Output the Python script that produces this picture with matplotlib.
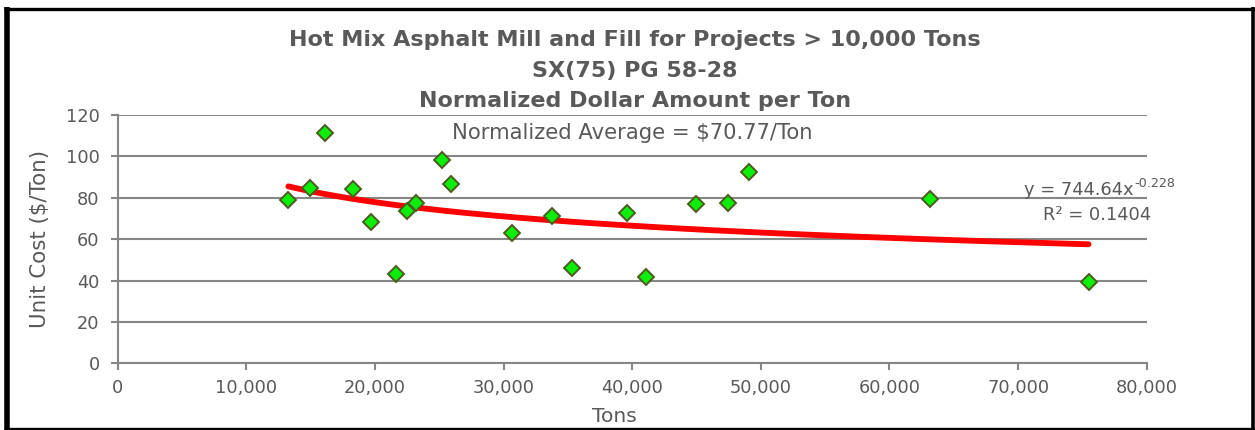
import numpy as np
import matplotlib
matplotlib.use("Agg")
import matplotlib.pyplot as plt
from matplotlib.ticker import FuncFormatter, MultipleLocator
from matplotlib.lines import Line2D

# Project size (tons) and normalized unit cost ($/ton)
tons = [13260, 14950, 16110, 18270, 19690, 21630, 22470, 23190, 25190, 25910,
        30680, 33740, 35340, 39620, 41070, 44980, 47430, 49100, 63160, 75480]
unit_cost = [78.9, 84.6, 111.2, 84.1, 68.1, 43.0, 73.6, 77.3, 98.3, 86.5,
             62.8, 71.2, 45.9, 72.8, 41.9, 77.0, 77.3, 92.5, 79.2, 39.4]

# Power trendline y = a * x^b
trend_a = 744.64
trend_b = -0.228
trend_r2 = 0.1404
normalized_avg = 70.77

title_lines = ["Hot Mix Asphalt Mill and Fill for Projects > 10,000 Tons",
               "SX(75) PG 58-28",
               "Normalized Dollar Amount per Ton"]

W, H = 1255, 430
TEXT = "#595959"
GRID = "#878787"

plt.rcParams["font.family"] = ["DejaVu Sans"]

fig = plt.figure(figsize=(W / 100, H / 100), dpi=100)
fig.patch.set_facecolor("white")


def fx(px):
    return px / W


def fy(py):
    return 1 - py / H


left, right, top, bottom = 117.8, 1146.7, 115.0, 363.3
ax = fig.add_axes([fx(left), fy(bottom), fx(right) - fx(left), fy(top) - fy(bottom)])

ax.set_xlim(0, 80000)
ax.set_ylim(0, 120)
ax.xaxis.set_major_locator(MultipleLocator(10000))
ax.yaxis.set_major_locator(MultipleLocator(20))
ax.xaxis.set_major_formatter(FuncFormatter(lambda v, p: f"{v:,.0f}"))

ax.grid(axis="y", color=GRID, linewidth=1.5)
ax.set_axisbelow(True)
for s in ("top", "right"):
    ax.spines[s].set_visible(False)
for s in ("left", "bottom"):
    ax.spines[s].set_color(GRID)
    ax.spines[s].set_linewidth(1.5)

ax.tick_params(axis="both", direction="out", length=5, width=1.5, color=GRID,
               labelcolor=TEXT, labelsize=12.8)
ax.tick_params(axis="x", pad=6)
ax.tick_params(axis="y", pad=8)

# Trendline over the data range
xt = np.linspace(min(tons), max(tons), 300)
ax.plot(xt, trend_a * xt ** trend_b, color="#FF0000", linewidth=4.2,
        solid_capstyle="round", zorder=2)

# Data points
ax.plot(tons, unit_cost, linestyle="none", marker="D", markersize=8.2,
        markerfacecolor="#0AEE0A", markeredgecolor="#4E5B1E",
        markeredgewidth=1.4, zorder=3)

# Titles
for txt, base in zip(title_lines, (45.5, 76.5, 107.0)):
    fig.text(fx(635), fy(base), txt, ha="center", va="baseline",
             fontsize=16, fontweight="bold", color=TEXT)

fig.text(fx(632), fy(139.3), f"Normalized Average = ${normalized_avg:.2f}/Ton",
         ha="center", va="baseline", fontsize=15.2, color=TEXT)

# Trendline equation and R squared
fig.text(fx(1134), fy(195), f"y = {trend_a:.2f}x", ha="right", va="baseline",
         fontsize=12.9, color=TEXT)
fig.text(fx(1134), fy(187), f"{trend_b:.3f}", ha="left", va="baseline",
         fontsize=9.2, color=TEXT)
fig.text(fx(1097.5), fy(220), f"R\u00b2 = {trend_r2:.4f}", ha="center",
         va="baseline", fontsize=12.9, color=TEXT)

# Axis titles
fig.text(fx(40), fy(239), "Unit Cost ($/Ton)", rotation=90, ha="center",
         va="center", fontsize=15.4, color=TEXT)
fig.text(fx(614), fy(421.5), "Tons", ha="center", va="baseline",
         fontsize=14.6, color=TEXT)

# Outer frame
frame_kw = dict(color="black", transform=fig.transFigure, solid_capstyle="butt")
fig.add_artist(Line2D([fx(4), fx(1255)], [fy(8.7), fy(8.7)], linewidth=2.4, **frame_kw))
fig.add_artist(Line2D([fx(4), fx(1255)], [fy(428.5), fy(428.5)], linewidth=2.4, **frame_kw))
fig.add_artist(Line2D([fx(6.8), fx(6.8)], [fy(7), fy(430)], linewidth=4.0, **frame_kw))
fig.add_artist(Line2D([fx(1253.3), fx(1253.3)], [fy(7), fy(430)], linewidth=2.6, **frame_kw))

fig.savefig("out.png", dpi=100, facecolor="white")
